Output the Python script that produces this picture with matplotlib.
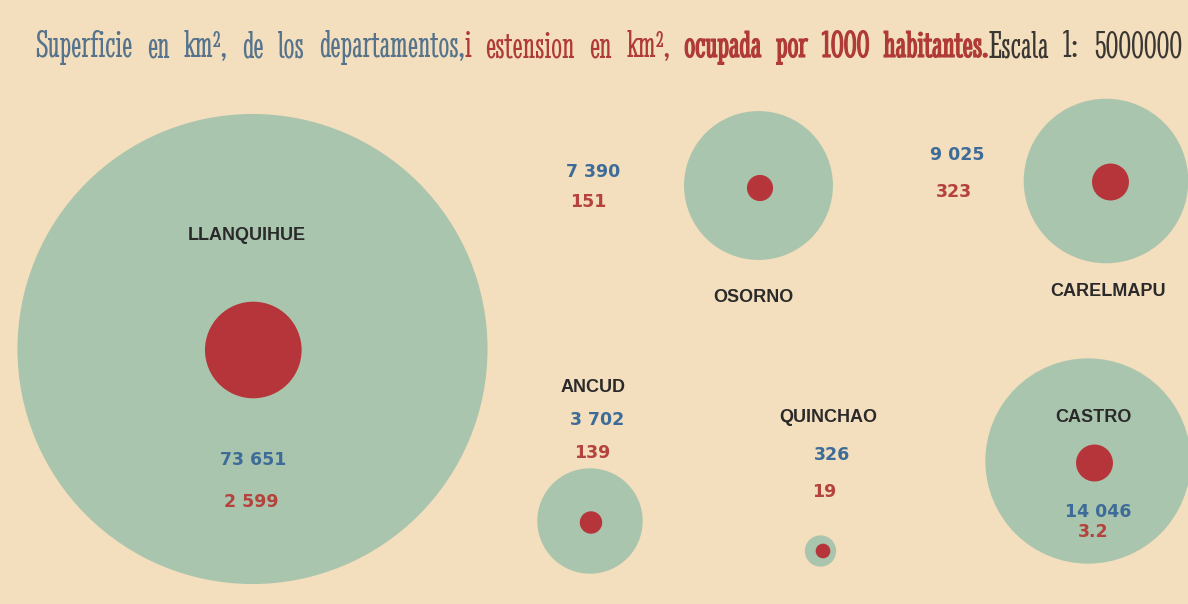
import numpy as np
import matplotlib
matplotlib.use("Agg")
import matplotlib.pyplot as plt
from matplotlib.patches import Circle
from matplotlib import font_manager as fm
import matplotlib.patheffects as pe

# ---------------- data ----------------
departments = ["LLANQUIHUE", "OSORNO", "CARELMAPU", "ANCUD", "QUINCHAO", "CASTRO"]
superficie_km2 = [73651, 7390, 9025, 3702, 326, 14046]
superficie_labels = ["73 651", "7 390", "9 025", "3 702", "326", "14 046"]
extension_labels = ["2 599", "151", "323", "139", "19", "3.2"]
# area of the printed red discs (same units)
extension_disc_km2 = [2599, 190, 380, 140, 60, 380]

# ---------------- layout (pixels) ----------------
W, H = 1188, 604
centers = [(252.5, 349), (758.5, 185.5), (1106, 181), (590, 521), (820.5, 551), (1088, 461)]
red_offsets = [(0.8, 1), (1.5, 2.5), (4.5, 1), (1, 1.5), (2.5, 0), (6.5, 2)]
name_pos = [(247, 235), (753, 298), (1108, 292), (593, 387), (828, 418), (1093, 417)]
sup_pos = [(253, 460), (593, 172), (957, 155), (597, 420), (832, 455), (1098, 512)]
ext_pos = [(251, 502), (588, 202), (954, 192), (592, 453), (824, 492), (1093, 532)]

BG = "#F3DEBD"
GREEN = "#AAC5AD"
RED = "#B5353A"
BLUE_T = "#3E6C98"
RED_T = "#B4423D"
DARK = "#2A2A2A"
TITLE_BLUE = "#55738C"
TITLE_RED = "#B03A36"
TITLE_DARK = "#3A3632"

GREEN_K = 0.75   # px^2 per km^2
RED_K = 0.898

fig = plt.figure(figsize=(W / 100, H / 100), dpi=100)
fig.patch.set_facecolor(BG)
ax = fig.add_axes([0, 0, 1, 1])
ax.set_xlim(0, W)
ax.set_ylim(H, 0)
ax.set_aspect("equal")
ax.axis("off")
ax.set_facecolor(BG)

for i, name in enumerate(departments):
    cx, cy = centers[i]
    rg = np.sqrt(superficie_km2[i] * GREEN_K)
    ax.add_patch(Circle((cx, cy), rg, facecolor=GREEN, edgecolor="none", zorder=1))
    dx, dy = red_offsets[i]
    rr = np.sqrt(extension_disc_km2[i] * RED_K)
    ax.add_patch(Circle((cx + dx, cy + dy), rr, facecolor=RED, edgecolor="none", zorder=2))
    ax.text(*name_pos[i], name, ha="center", va="center", fontsize=13,
            fontweight="bold", family="Liberation Sans", color=DARK, zorder=3)
    ax.text(*sup_pos[i], superficie_labels[i], ha="center", va="center", fontsize=12.5,
            fontweight="bold", family="DejaVu Sans", color=BLUE_T, zorder=3)
    ax.text(*ext_pos[i], extension_labels[i], ha="center", va="center", fontsize=12.5,
            fontweight="bold", family="DejaVu Sans", color=RED_T, zorder=3)

# ---------------- title ----------------
files = {}
for f in fm.fontManager.ttflist:
    files[f.fname.replace("\\", "/").split("/")[-1]] = f.fname
title_file = files.get("StintUltraCondensed-Regular.ttf")

def fprops(size):
    if title_file:
        return fm.FontProperties(fname=title_file, size=size)
    return fm.FontProperties(family="Liberation Serif", size=size)

pieces = [
    ("Superficie en km², de los departamentos,", TITLE_BLUE, 0.0),
    ("i estension en km², ", TITLE_RED, 0.0),
    ("ocupada por 1000 habitantes.", TITLE_RED, 0.8),
    ("Escala 1: 5000000", TITLE_DARK, 0.0),
]

renderer = fig.canvas.get_renderer()
x0, x1, baseline = 35, 1182, 57

toks = []
prev_space = False
for s, c, lw in pieces:
    parts = s.split(" ")
    for j, w in enumerate(parts):
        if w == "":
            prev_space = True
            continue
        toks.append((w, c, lw, (j > 0) or prev_space))
        prev_space = False

def measure(w, size):
    t = ax.text(0, 0, w, fontproperties=fprops(size))
    wd = t.get_window_extent(renderer).width
    t.remove()
    return wd

base = 20.0
nat = sum(measure(w, base) for w, _, _, _ in toks)
sp = measure("a a", base) - measure("aa", base)
ngap = sum(1 for t in toks if t[3])
fit = base * (x1 - x0) / (nat + ngap * sp)
size = fit * 0.9

widths = [measure(w, size) for w, _, _, _ in toks]
extra = ((x1 - x0) - sum(widths)) / max(ngap, 1)
x = x0
for (w, c, lw, g), wd in zip(toks, widths):
    if g:
        x += extra
    t = ax.text(x, baseline, w, color=c, fontproperties=fprops(size),
                ha="left", va="baseline", zorder=3)
    if lw > 0:
        t.set_path_effects([pe.withStroke(linewidth=lw, foreground=c)])
    x += wd

fig.savefig("out.png", dpi=100, facecolor=BG)
